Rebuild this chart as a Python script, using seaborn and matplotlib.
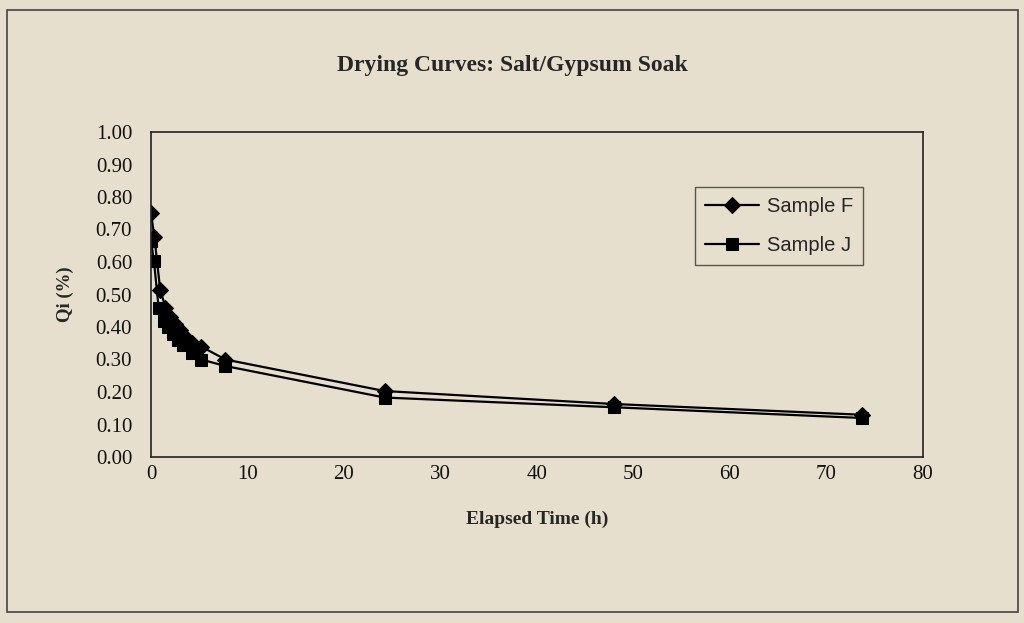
import matplotlib
matplotlib.use("Agg")
import matplotlib.pyplot as plt
import seaborn as sns
import pandas as pd
from matplotlib.patches import Rectangle

# values
time_f = [0, 0.35, 0.95, 1.5, 2.0, 2.5, 3.0, 3.5, 4.3, 5.2, 7.7, 24.2, 48.0, 73.7]
qi_f = [0.75, 0.677, 0.515, 0.46, 0.43, 0.41, 0.39, 0.37, 0.35, 0.34, 0.30, 0.203, 0.163, 0.13]

time_j = [0, 0.3, 0.8, 1.3, 1.8, 2.3, 2.8, 3.3, 4.2, 5.2, 7.7, 24.2, 48.0, 73.7]
qi_j = [0.665, 0.604, 0.457, 0.42, 0.40, 0.38, 0.36, 0.345, 0.32, 0.30, 0.28, 0.183, 0.153, 0.12]

bg = "#e7dfcd"
sns.set_style("white")
plt.rcParams["font.family"] = ["Liberation Serif", "DejaVu Serif"]

fig = plt.figure(figsize=(10.24, 6.23), dpi=100, facecolor=bg)
ax = fig.add_axes([151 / 1024, 1 - 457 / 623, (923 - 151) / 1024, (457 - 132) / 623])
ax.set_facecolor(bg)

df_f = pd.DataFrame({"t": time_f, "q": qi_f})
df_j = pd.DataFrame({"t": time_j, "q": qi_j})

sns.lineplot(data=df_f, x="t", y="q", ax=ax, sort=False, color="black",
             lw=1.6, marker="D", markersize=8, mec="black", label="Sample F")
sns.lineplot(data=df_j, x="t", y="q", ax=ax, sort=False, color="black",
             lw=1.6, marker="s", markersize=9, mec="black", label="Sample J")

ax.set_xlim(0, 80)
ax.set_ylim(0, 1.0)
ax.set_xticks(range(0, 81, 10))
ax.set_yticks([i / 10 for i in range(11)])
ax.set_yticklabels([f"{i / 10:.2f}" for i in range(11)])
ax.tick_params(direction="inout", length=7, width=1, labelsize=15, colors="#111111")
ax.tick_params(axis="y", pad=10)
ax.tick_params(axis="x", pad=2)
for s in ax.spines.values():
    s.set_color("#222222")
    s.set_linewidth(1.2)

ax.set_xlabel("Elapsed Time (h)", fontsize=14, fontweight="bold")
ax.xaxis.set_label_coords(0.5, (457 - 511) / 325)
ax.set_ylabel("Qi (%)", fontsize=13.5, fontweight="bold")
ax.yaxis.set_label_coords((74 - 151) / 772, 0.5)
fig.text(0.5, 1 - 66 / 623, "Drying Curves: Salt/Gypsum Soak", ha="center", va="center",
         fontsize=17, fontweight="bold")

leg = ax.legend(loc="upper right", bbox_to_anchor=((863 - 151) / 772, (457 - 187) / 325),
                borderaxespad=0, frameon=True, fancybox=False,
                prop={"family": "Liberation Sans", "size": 14.5},
                handlelength=2.65, borderpad=0.5, labelspacing=1.0, handletextpad=0.4)
leg.get_frame().set_edgecolor("#333333")
leg.get_frame().set_facecolor(bg)
leg.get_frame().set_linewidth(1)

# outer chart border
fig.patches.append(Rectangle((7 / 1024, 1 - 612 / 623), 1011 / 1024, 602 / 623,
                             transform=fig.transFigure, fill=False,
                             edgecolor="#444444", lw=1.2))

fig.savefig("out.png", dpi=100, facecolor=bg)
